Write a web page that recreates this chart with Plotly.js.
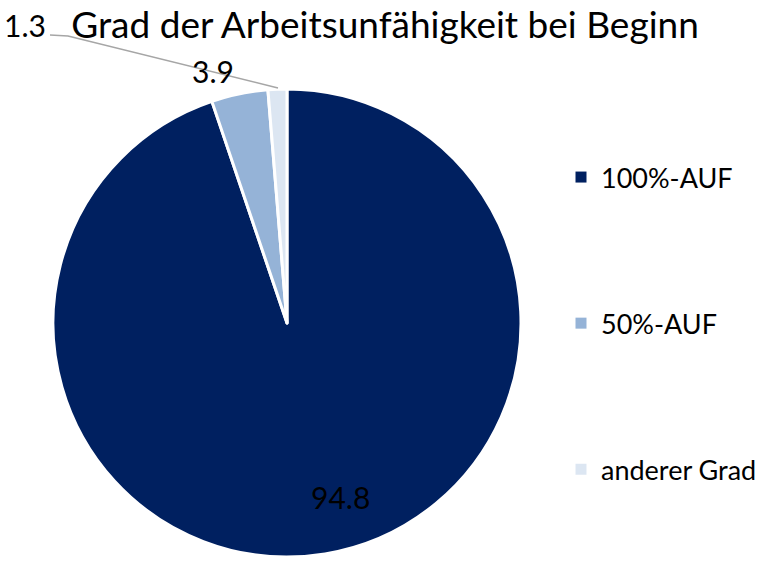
<!DOCTYPE html>
<html>
<head>
<meta charset="utf-8">
<script src="https://cdn.plot.ly/plotly-3.0.1.min.js"></script>
<style>html,body{margin:0;padding:0;background:#fff;}#chart{width:779px;height:562px;}</style>
</head>
<body>
<div id="chart"></div>
<script>
const categories = ["100%-AUF", "50%-AUF", "anderer Grad"];
const values = [94.8, 3.9, 1.3];
const valueLabels = ["94.8", "3.9", "1.3"];
const colors = ["#002060", "#95B3D7", "#DCE6F2"];
const titleText = "Grad der Arbeitsunfähigkeit bei Beginn";

const FONT = "Lato, 'Noto Sans', sans-serif";

const pie = {
  type: "pie",
  labels: categories,
  values: values,
  sort: false,
  direction: "clockwise",
  rotation: 0,
  marker: {colors: colors, line: {color: "#ffffff", width: 3}},
  textinfo: "none",
  hoverinfo: "label+value",
  showlegend: false,
  domain: {x: [53/779, 521/779], y: [5/562, 473/562]}
};

const legendTraces = categories.map((c, i) => ({
  type: "scatter",
  x: [null], y: [null],
  mode: "markers",
  name: c,
  legendgroup: "g" + i,
  marker: {symbol: "square", size: 11, color: colors[i]},
  hoverinfo: "skip"
}));

// label anchor positions (paper coords) for the value labels
const labelPos = [[340/779, 1-497/562], [213/779, 1-71/562], [25/779, 1-25/562]];
const annotations = valueLabels.map((t, i) => ({
  text: t, xref: "paper", yref: "paper",
  x: labelPos[i][0], y: labelPos[i][1],
  xanchor: "center", yanchor: "middle",
  showarrow: false,
  font: {family: FONT, size: 30, color: "#000000"}
}));

const layout = {
  width: 779, height: 562,
  margin: {l: 0, r: 0, t: 0, b: 0},
  paper_bgcolor: "#ffffff",
  plot_bgcolor: "#ffffff",
  title: {text: titleText, x: 385/779, xanchor: "center", y: 1-25/562, yanchor: "middle",
          font: {family: FONT, size: 37, color: "#000000"}},
  xaxis: {visible: false, domain: [0.9, 1]},
  yaxis: {visible: false, domain: [0.9, 1]},
  showlegend: true,
  legend: {x: 561/779, xanchor: "left", y: 1-153/562, yanchor: "top",
           font: {family: FONT, size: 27, color: "#000000"},
           tracegroupgap: 108, bgcolor: "rgba(0,0,0,0)"},
  annotations: annotations,
  shapes: [{type: "path", xref: "paper", yref: "paper",
            path: "M " + (50/779) + " " + (1-35/562) + " L " + (68/779) + " " + (1-36/562) + " L " + (278/779) + " " + (1-88/562),
            line: {color: "#A6A6A6", width: 1.5}}]
};

Plotly.newPlot("chart", [pie].concat(legendTraces), layout, {displayModeBar: false, staticPlot: true});
</script>
</body>
</html>
